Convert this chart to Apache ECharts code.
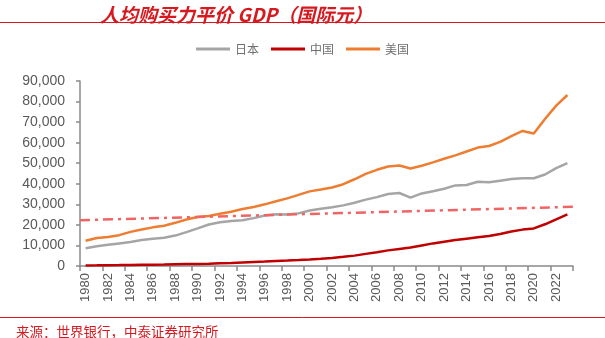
<!DOCTYPE html>
<html><head><meta charset="utf-8">
<script src="https://cdn.jsdelivr.net/npm/echarts@6/dist/echarts.min.js"></script>
<style>html,body{margin:0;padding:0;background:#fff}#c{width:605px;height:338px}</style>
</head><body><div id="c"></div>
<script>
const years = ['1980','1981','1982','1983','1984','1985','1986','1987','1988','1989',
  '1990','1991','1992','1993','1994','1995','1996','1997','1998','1999',
  '2000','2001','2002','2003','2004','2005','2006','2007','2008','2009',
  '2010','2011','2012','2013','2014','2015','2016','2017','2018','2019',
  '2020','2021','2022','2023'];
const japan = [8600,9600,10300,11000,11700,12600,13200,13700,14800,16500,
  18300,20200,21300,21900,22300,23300,24600,25200,25000,25600,
  27000,27900,28600,29500,30800,32300,33500,35000,35500,33300,
  35300,36400,37600,39200,39400,41000,40700,41500,42300,42700,
  42700,44500,47600,50000];
const china = [300,340,390,440,520,600,660,750,850,920,
  990,1100,1300,1500,1750,1990,2200,2450,2650,2900,
  3200,3550,3950,4450,5050,5900,6700,7600,8300,9000,
  10000,11000,11800,12600,13300,14000,14600,15600,16800,17700,
  18300,20300,22700,25100];
const usa = [12300,13600,14100,15000,16600,17800,18800,19600,21000,22600,
  23800,24300,25400,26400,27700,28700,30000,31500,32900,34600,
  36300,37200,38200,39800,42200,44800,46800,48400,48900,47400,
  48800,50400,52200,53800,55700,57600,58400,60400,63200,65700,
  64500,71500,78000,83200];
const refX = [1979.5, 2023.5];
const refY = [22300, 28800];
const seriesNames = ['日本','中国','美国'];
const yTicks = [0,10000,20000,30000,40000,50000,60000,70000,80000,90000];

const chart = echarts.init(document.getElementById('c'), null, {renderer:'canvas'});
const axisColor = '#8a8a8a';
const labelColor = '#595959';
chart.setOption({
  animation:false,
  backgroundColor:'#fff',
  title:[
    {text:'人均购买力平价 GDP（国际元）', left:95, top:0,
     textStyle:{color:'#d7191f', fontSize:19, fontWeight:'bold', fontStyle:'italic',
       fontFamily:'"Noto Sans CJK SC", "Liberation Sans", sans-serif'}},
    {text:'来源：世界银行，中泰证券研究所', left:11, top:320,
     textStyle:{color:'#d7191f', fontSize:13.5, fontWeight:'normal',
       fontFamily:'"Noto Sans CJK SC", sans-serif'}}
  ],
  graphic:[
    {type:'line', shape:{x1:0,y1:22.5,x2:605,y2:22.5}, style:{stroke:'#d7191f', lineWidth:1}},
    {type:'line', shape:{x1:0,y1:317.5,x2:605,y2:317.5}, style:{stroke:'#d7191f', lineWidth:1}}
  ],
  legend:{
    data:seriesNames, top:38, left:'center',
    itemWidth:34, itemHeight:3, itemGap:12, icon:'rect',
    textStyle:{color:'#707070', fontSize:12, fontFamily:'"Noto Sans CJK SC", sans-serif'}
  },
  grid:{left:80, right:32, top:81, bottom:72, containLabel:false},
  xAxis:[
    {type:'category', data:years, boundaryGap:true,
     axisLine:{lineStyle:{color:axisColor, width:1.5}},
     axisTick:{show:true, interval:1, length:5, lineStyle:{color:axisColor, width:1.5}},
     axisLabel:{interval:1, rotate:90, fontSize:13, color:labelColor, margin:7,
       fontFamily:'"Liberation Sans", Arial, sans-serif'},
     splitLine:{show:false}},
    {type:'value', min:1979.5, max:2023.5, show:false}
  ],
  yAxis:{type:'value', min:yTicks[0], max:yTicks[yTicks.length-1], interval:yTicks[1]-yTicks[0],
    axisLine:{show:true, lineStyle:{color:axisColor, width:1.5}},
    axisTick:{show:true, length:4, lineStyle:{color:axisColor, width:1.5}},
    axisLabel:{fontSize:14, color:labelColor, margin:15,
      fontFamily:'"Liberation Sans", Arial, sans-serif',
      formatter:v=>v.toLocaleString('en-US')},
    splitLine:{show:false}},
  series:[
    {name:'日本', type:'line', data:japan, symbol:'none', smooth:false,
     lineStyle:{color:'#a5a5a5', width:2.5}, itemStyle:{color:'#a5a5a5'}},
    {name:'中国', type:'line', data:china, symbol:'none', smooth:false,
     lineStyle:{color:'#c00000', width:2.5}, itemStyle:{color:'#c00000'}},
    {name:'美国', type:'line', data:usa, symbol:'none', smooth:false,
     lineStyle:{color:'#ee7d31', width:2.5}, itemStyle:{color:'#ee7d31'}},
    {name:'参考线', type:'line', xAxisIndex:1, data:refX.map((x,i)=>[x, refY[i]]),
     symbol:'none', silent:true,
     lineStyle:{color:'#f06464', width:2.5, type:[10,5,3,5]}}
  ]
});
</script></body></html>
